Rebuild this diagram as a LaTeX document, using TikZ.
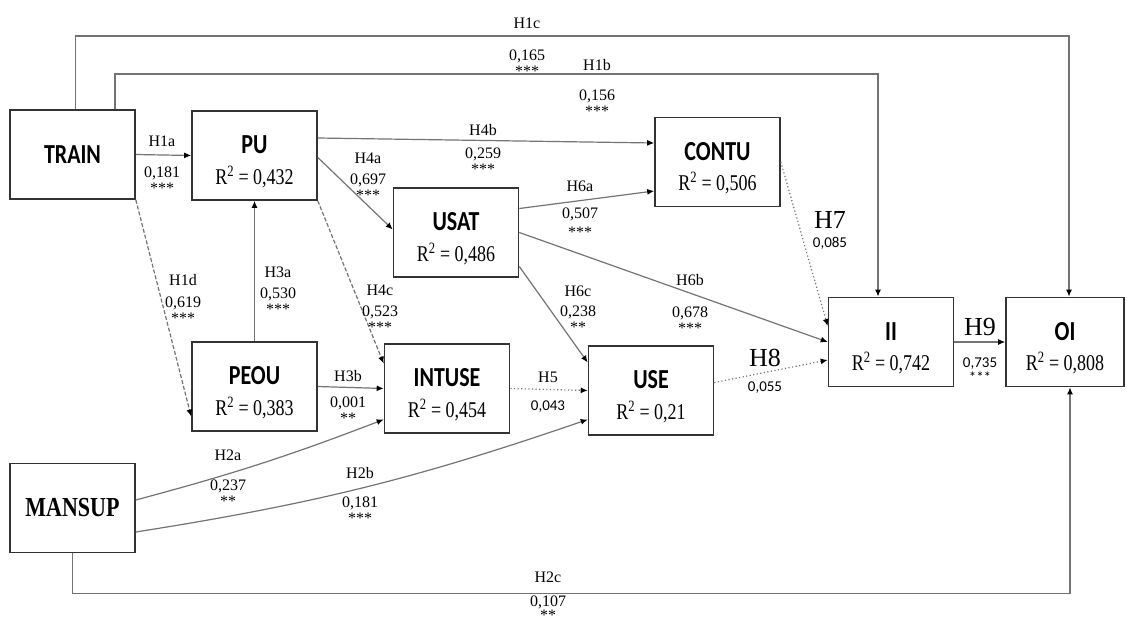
\documentclass[tikz,border=0pt]{standalone}
\usepackage{fontspec}
\setmainfont{Liberation Serif}
\setsansfont{Carlito}
\usepackage{graphicx}
\usetikzlibrary{arrows.meta,calc}
\tikzset{
  construct/.style={draw=black!80, line width=1.6pt, fill=white, minimum width=125pt, minimum height=89pt, inner sep=0pt, align=center, font=\fontsize{10}{10}\selectfont},
  link/.style={draw=black!55, line width=1.2pt, -{Latex[length=7pt,width=6pt,color=black]}},
  longlink/.style={link, line width=1.6pt},
  linkdash/.style={link, dash pattern=on 4pt off 2pt},
  linkdot/.style={link, dash pattern=on 1.2pt off 2.4pt},
  coef/.style={font=\fontsize{16}{16}\selectfont, inner sep=0pt, align=center},
  bigcoef/.style={font=\fontsize{26}{26}\selectfont, inner sep=0pt},
  sanscoef/.style={font=\sffamily\fontsize{15}{15}\selectfont, inner sep=0pt, align=center}
}
\newcommand{\cname}[1]{\scalebox{1}[1.25]{\sffamily\bfseries\fontsize{22}{24}\selectfont #1}}
\newcommand{\rsq}[1]{\scalebox{1}[1.25]{\fontsize{18}{20}\selectfont R\textsuperscript{2} = #1}}
\newcommand{\cpair}[2]{\rule{0pt}{30pt}\cname{#1}\\[11pt]\rsq{#2}}
\begin{document}
\begin{tikzpicture}[x=1pt, y=-1pt]
\useasboundingbox (0,0) rectangle (1127,627);
% constructs
\node[construct] (TRAIN) at (72.5,154.5) {\cname{TRAIN}};
\node[construct] (PU) at (254.5,155.5) {\cpair{PU}{0,432}};
\node[construct] (USAT) at (456,232.5) {\cpair{USAT}{0,486}};
\node[construct] (CONTU) at (717.5,162) {\cpair{CONTU}{0,506}};
\node[construct] (PEOU) at (254.5,386.5) {\cpair{PEOU}{0,383}};
\node[construct] (INTUSE) at (447,388.5) {\cpair{INTUSE}{0,454}};
\node[construct] (USE) at (651,390.5) {\cpair{USE}{0,21}};
\node[construct] (II) at (891,342) {\cpair{II}{0,742}};
\node[construct, minimum width=118pt] (OI) at (1065,342) {\cpair{OI}{0,808}};
\node[construct] (MANSUP) at (72.5,508) {\scalebox{1}[1.25]{\bfseries\fontsize{22}{24}\selectfont MANSUP}};

% paths
\draw[longlink] ([xshift=3pt]TRAIN.north) -- ++(0,-73) -| ([xshift=4pt]OI.north);
\draw[longlink] ([xshift=42.5pt]TRAIN.north) -- ++(0,-35) -| ([xshift=-13pt]II.north);
\draw[longlink] (MANSUP.south) -- ++(0,40) -| ([xshift=5pt]OI.south);
\draw[link] (TRAIN.east) -- (PU.west);
\draw[linkdash] (TRAIN.south east) -- ([yshift=-30pt]PEOU.west);
\draw[link] (PEOU.north) -- (PU.south);
\draw[link] ([yshift=17.5pt]PU.east) -- ([yshift=19pt]CONTU.west);
\draw[link] ([yshift=-2pt]PU.east) -- ([yshift=3pt]USAT.west);
\draw[linkdash] (PU.south east) -- ([yshift=25pt]INTUSE.west);
\draw[link] (PEOU.east) -- (INTUSE.west);
\draw[link] ([yshift=24pt]USAT.east) -- ([yshift=-29pt]CONTU.west);
\draw[link] (USAT.east) -- (II.west);
\draw[link] ([yshift=-34pt]USAT.east) -- ([yshift=28pt]USE.west);
\draw[linkdot] (INTUSE.east) -- (USE.west);
\draw[linkdot] (CONTU.east) -- ([yshift=16pt]II.west);
\draw[linkdot] ([yshift=8pt]USE.east) -- ([yshift=-18pt]II.west);
\draw[link] (II.east) -- (OI.west);
\draw[link] ([yshift=8pt]MANSUP.east) to[bend right=3] ([yshift=-31pt]INTUSE.west);
\draw[link] ([yshift=-24pt]MANSUP.east) to[bend right=5] ([yshift=-29pt]USE.west);

% coefficients
\node[coef] (h1c) at (527,23) {H1c};
\node[coef, anchor=north] (b1c) at (527,49.5) {0,165\\***};
\node[coef] (h1b) at (597,65) {H1b};
\node[coef, anchor=north] (b1b) at (597,89.5) {0,156\\***};
\node[coef] (h1a) at (162,141) {H1a};
\node[coef, anchor=north] (b1a) at (162,166.5) {0,181\\***};
\node[coef] (h4b) at (483,130) {H4b};
\node[coef, anchor=north] (b4b) at (483,147.5) {0,259\\***};
\node[coef, anchor=north] (h4a) at (368,152.5) {H4a\\[5pt]0,697\\***};
\node[coef] (h6a) at (580,186) {H6a};
\node[coef, anchor=north] (b6a) at (580,207.5) {0,507\\[3pt]***};
\node[coef, anchor=north] (h1d) at (183,274.5) {H1d\\[6pt]0,619\\***};
\node[coef, anchor=north] (h3a) at (278,266.5) {H3a\\[5pt]0,530\\***};
\node[coef, anchor=north] (h4c) at (380,284.5) {H4c\\[5pt]0,523\\***};
\node[coef, anchor=north] (h6c) at (578,285.5) {H6c\\[4pt]0,238\\**};
\node[coef] (h6b) at (690,280) {H6b};
\node[coef, anchor=north] (b6b) at (690,306.5) {0,678\\***};
\node[bigcoef] (h7) at (830,220) {H7};
\node[sanscoef] (b7) at (830,243) {0,085};
\node[coef] (h3b) at (348,376) {H3b};
\node[coef, anchor=north] (b3b) at (348,396.5) {0,001\\**};
\node[coef] (h5) at (548,377) {H5};
\node[sanscoef] (b5) at (548,407) {0,043};
\node[bigcoef] (h8) at (765,358) {H8};
\node[sanscoef] (b8) at (765,388) {0,055};
\node[bigcoef] (h9) at (980,327) {H9};
\node[sanscoef, anchor=north] (b9) at (980,357.5) {0,735\\***};
\node[coef] (h2a) at (228,455) {H2a};
\node[coef, anchor=north] (b2a) at (228,479.5) {0,237\\**};
\node[coef] (h2b) at (360,473) {H2b};
\node[coef, anchor=north] (b2b) at (360,496.5) {0,181\\***};
\node[coef] (h2c) at (548,577) {H2c};
\node[coef, anchor=north] (b2c) at (548,596) {0,107\\[-2pt]**};
\end{tikzpicture}
\end{document}
